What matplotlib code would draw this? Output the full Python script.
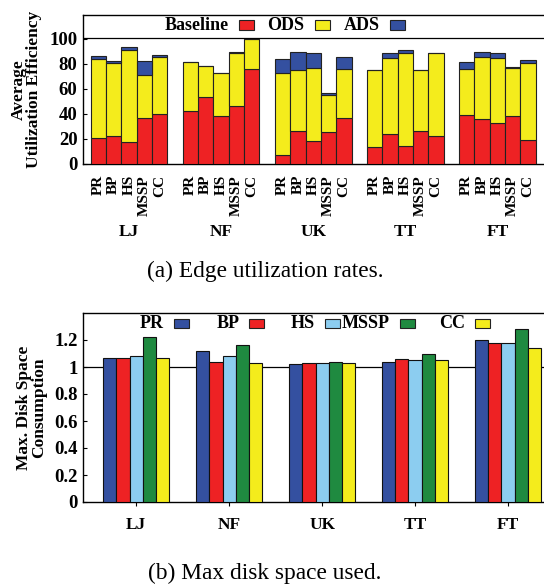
import numpy as np
import matplotlib
matplotlib.use("Agg")
import matplotlib.pyplot as plt
from matplotlib.patches import Rectangle
from matplotlib.transforms import blended_transform_factory

# Data
datasets = ["LJ", "NF", "UK", "TT", "FT"]
apps = ["PR", "BP", "HS", "MSSP", "CC"]

# (a) cumulative heights of the stacked bars
baseline = [
    [20.8, 22.7, 17.6, 36.8, 40.0],
    [42.4, 53.9, 38.4, 46.1, 76.0],
    [7.5, 26.4, 18.4, 25.3, 36.8],
    [13.6, 24.3, 14.4, 26.7, 22.7],
    [38.9, 36.0, 32.8, 38.1, 19.2],
]
ods_top = [
    [84.0, 80.8, 91.2, 71.2, 85.3],
    [81.3, 78.1, 72.5, 88.8, 100.0],
    [73.0, 75.2, 76.5, 55.5, 76.0],
    [74.7, 84.8, 88.8, 75.0, 88.3],
    [76.0, 85.6, 84.8, 76.8, 80.8],
]
ads_top = [
    [86.1, 81.9, 93.1, 82.4, 86.7],
    [81.3, 78.1, 72.5, 89.6, 100.0],
    [83.7, 89.3, 88.3, 56.5, 85.3],
    [74.7, 88.3, 91.2, 75.0, 88.8],
    [81.3, 89.6, 88.8, 77.3, 82.9],
]

# (b) max disk space consumption
disk = [
    [1.07, 1.07, 1.08, 1.22, 1.07],
    [1.12, 1.04, 1.08, 1.16, 1.03],
    [1.02, 1.03, 1.03, 1.04, 1.03],
    [1.04, 1.06, 1.05, 1.10, 1.05],
    [1.20, 1.18, 1.18, 1.28, 1.14],
]

RED = "#ee2224"
YELLOW = "#f4ec1c"
BLUE = "#3450a0"
LBLUE = "#8ccdf0"
GREEN = "#1f8a40"

plt.rcParams["font.family"] = ["Liberation Serif", "DejaVu Serif"]
plt.rcParams["font.weight"] = "bold"

W, H = 544, 586
fig = plt.figure(figsize=(W / 100, H / 100), dpi=100)


def box(l, t, r, b):
    return [l / W, 1 - b / H, (r - l) / W, (b - t) / H]


def key(labels, colors, first_box_right, step, yc):
    # gnuplot-style key: fixed-width columns, text right-aligned before the sample
    for i, (lab, c) in enumerate(zip(labels, colors)):
        r = first_box_right + i * step
        fig.patches.append(Rectangle(((r - 15) / W, 1 - (yc + 4.5) / H), 15 / W, 9 / H,
                                     transform=fig.transFigure, facecolor=c,
                                     edgecolor="#222222", linewidth=0.8))
        fig.text((r - 25) / W, 1 - yc / H, lab, ha="right", va="center",
                 fontsize=13, fontweight="bold")


# ---------- (a) ----------
ax1 = fig.add_axes(box(83, 15, 548, 164))
n = len(apps)
x_all, lab_all = [], []
for g, ds in enumerate(datasets):
    xs = g * 6 + np.arange(n)
    b = np.array(baseline[g])
    o = np.array(ods_top[g])
    a = np.array(ads_top[g])
    ax1.bar(xs, b, width=1, color=RED, edgecolor="#222222", linewidth=0.8, zorder=3)
    ax1.bar(xs, o - b, bottom=b, width=1, color=YELLOW, edgecolor="#222222",
            linewidth=0.8, zorder=3)
    ax1.bar(xs, a - o, bottom=o, width=1, color=BLUE, edgecolor="#222222",
            linewidth=0.8, zorder=3)
    x_all += list(xs)
    lab_all += apps

ax1.set_xlim(-1, 29.3)
ax1.set_ylim(0, 119)
ax1.axhline(100.8, color="black", linewidth=0.9, zorder=4)
ax1.set_yticks([0, 20, 40, 60, 80, 100])
ax1.tick_params(axis="y", direction="in", length=3, labelsize=13.5, pad=4)
ax1.set_xticks(x_all)
ax1.set_xticklabels(lab_all, rotation=90, fontsize=11)
ax1.tick_params(axis="x", length=0, pad=8)
for lbl in ax1.get_xticklabels() + ax1.get_yticklabels():
    lbl.set_fontweight("bold")
trans1 = blended_transform_factory(ax1.transData, ax1.transAxes)
for g, ds in enumerate(datasets):
    ax1.text(g * 6 + 2, -0.455, ds, transform=trans1, ha="center", va="center",
             fontsize=12.5, fontweight="bold")
ax1.set_ylabel("Average\nUtilization Efficiency", fontsize=12.5,
               fontweight="bold", linespacing=0.95, labelpad=5)
for sp in ax1.spines.values():
    sp.set_linewidth(1.0)
key(["Baseline", "ODS", "ADS"], [RED, YELLOW, BLUE], 254, 75.5, 25)

fig.text(265 / W, 1 - 271 / H, "(a) Edge utilization rates.", ha="center",
         va="center", fontsize=16.8, fontweight="normal")

# ---------- (b) ----------
ax2 = fig.add_axes(box(83, 313, 548, 502))
colors = [BLUE, RED, LBLUE, GREEN, YELLOW]
for i, app in enumerate(apps):
    xs = np.arange(len(datasets)) * 7 + i
    vals = [disk[g][i] for g in range(len(datasets))]
    ax2.bar(xs, vals, width=1, color=colors[i], edgecolor="#111111",
            linewidth=0.8, zorder=3)
ax2.axhline(1.0, color="black", linewidth=0.9, zorder=1)
ax2.set_xlim(-2, 33.0)
ax2.set_ylim(0, 1.4)
ax2.set_yticks([0, 0.2, 0.4, 0.6, 0.8, 1.0, 1.2])
ax2.set_yticklabels(["0", "0.2", "0.4", "0.6", "0.8", "1", "1.2"])
ax2.tick_params(axis="y", direction="in", length=3, labelsize=13.5, pad=4)
ax2.set_xticks(np.arange(len(datasets)) * 7 + 2)
ax2.set_xticklabels(datasets, fontsize=12.5)
ax2.tick_params(axis="x", direction="out", length=3, pad=8)
for lbl in ax2.get_xticklabels() + ax2.get_yticklabels():
    lbl.set_fontweight("bold")
ax2.set_ylabel("Max. Disk Space\nConsumption", fontsize=12.5,
               fontweight="bold", linespacing=0.95, labelpad=5)
for sp in ax2.spines.values():
    sp.set_linewidth(1.0)
key(apps, colors, 189, 75.25, 323)

fig.text(265 / W, 1 - 573 / H, "(b) Max disk space used.", ha="center",
         va="center", fontsize=16.8, fontweight="normal")

fig.savefig("out.png", dpi=100)
